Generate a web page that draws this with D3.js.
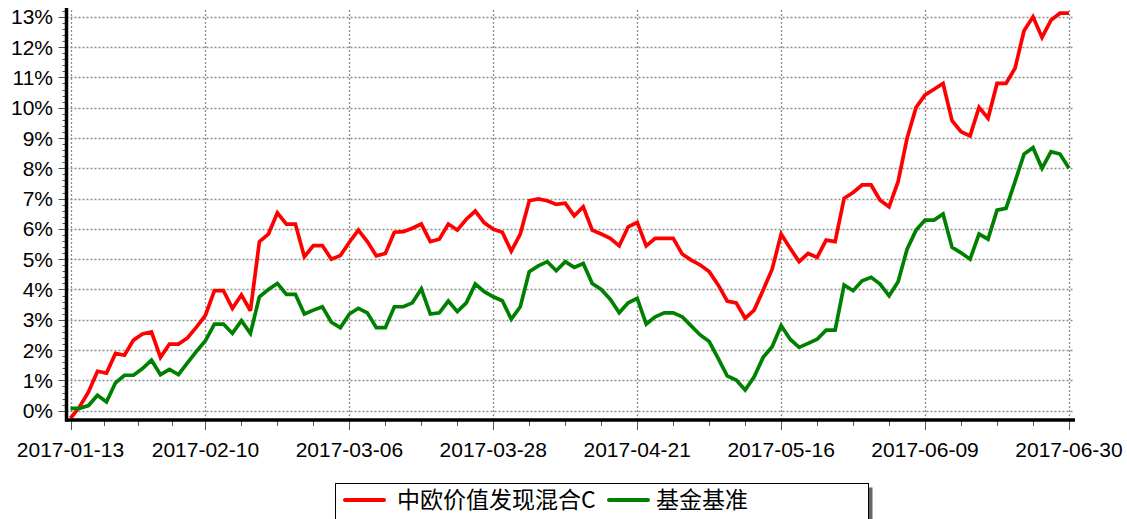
<!DOCTYPE html>
<html><head><meta charset="utf-8">
<script src="https://cdn.jsdelivr.net/npm/d3@7"></script>
<style>body{margin:0;background:#fff;}svg{display:block;}</style>
</head><body>
<div id="chart"></div>
<script>
const seriesNames = ["中欧价值发现混合C", "基金基准"];
const seriesColors = ["#ff0000", "#008000"];
const tickLabels = ["2017-01-13","2017-02-10","2017-03-06","2017-03-28","2017-04-21","2017-05-16","2017-06-09","2017-06-30"];
const fundValues = [-0.25,0.12,0.62,1.3,1.24,1.89,1.83,2.33,2.53,2.6,1.76,2.2,2.2,2.4,2.76,3.15,3.96,3.96,3.38,3.82,3.3,5.58,5.83,6.53,6.16,6.16,5.08,5.45,5.45,5.0,5.12,5.56,5.96,5.58,5.11,5.19,5.89,5.91,6.02,6.16,5.58,5.66,6.16,5.96,6.32,6.59,6.2,5.99,5.89,5.27,5.83,6.93,6.99,6.93,6.81,6.85,6.43,6.73,5.96,5.83,5.69,5.44,6.07,6.22,5.44,5.69,5.69,5.69,5.17,4.97,4.81,4.59,4.15,3.62,3.56,3.05,3.32,3.98,4.67,5.83,5.36,4.92,5.19,5.06,5.63,5.58,7.01,7.2,7.45,7.45,6.95,6.73,7.56,8.99,10.01,10.42,10.61,10.8,9.57,9.21,9.07,10.01,9.65,10.8,10.8,11.3,12.54,13.0,12.32,12.89,13.12,13.12];
const benchValues = [0.08,0.08,0.17,0.51,0.29,0.92,1.17,1.17,1.39,1.67,1.19,1.36,1.19,1.58,1.96,2.31,2.86,2.86,2.55,2.97,2.55,3.76,4.0,4.2,3.84,3.84,3.19,3.32,3.43,2.92,2.74,3.19,3.38,3.23,2.74,2.74,3.43,3.43,3.56,4.02,3.19,3.23,3.62,3.27,3.56,4.18,3.93,3.76,3.63,3.02,3.43,4.59,4.78,4.92,4.62,4.92,4.73,4.86,4.2,4.0,3.68,3.23,3.56,3.71,2.86,3.1,3.23,3.23,3.1,2.8,2.5,2.28,1.73,1.15,1.01,0.68,1.12,1.76,2.11,2.81,2.36,2.09,2.22,2.36,2.66,2.66,4.15,3.96,4.29,4.4,4.18,3.79,4.26,5.33,5.96,6.29,6.29,6.49,5.39,5.21,5.0,5.83,5.66,6.62,6.68,7.56,8.47,8.68,8.0,8.55,8.47,8.0];
const yTicks = [0,1,2,3,4,5,6,7,8,9,10,11,12,13];

const W = 1127, H = 519;
const svg = d3.select("#chart").append("svg").attr("width", W).attr("height", H);
const N = fundValues.length;
const x = d3.scaleLinear().domain([0, N - 1]).range([70.5, 1069]);
const y = d3.scaleLinear().domain([0, 13]).range([410.7, 16.8]);
const axisLeftX = 66.5, axisBottomY = 420, axisTopY = 8, axisRightX = 1075;

// tick indices: every 16 points from the end, plus the first point
const tickIdx = [];
for (let i = N - 1; i > 0; i -= 16) tickIdx.unshift(i);
tickIdx.unshift(0);

const grid = svg.append("g").attr("stroke", "#8c8c8c").attr("stroke-width", 1.3).attr("stroke-dasharray", "2,2");
yTicks.forEach(t => {
  grid.append("line").attr("x1", axisLeftX).attr("x2", axisRightX - 2)
    .attr("y1", Math.round(y(t)) + 0.5).attr("y2", Math.round(y(t)) + 0.5);
});
tickIdx.forEach(i => {
  grid.append("line").attr("x1", Math.round(x(i)) + 0.5).attr("x2", Math.round(x(i)) + 0.5)
    .attr("y1", axisTopY + 2).attr("y2", axisBottomY);
});

// y minor ticks
const ticksG = svg.append("g").attr("stroke", "#555").attr("stroke-width", 1);
for (let v = 0; v <= 13.2; v += 0.2) {
  const yy = Math.round(y(v)) + 0.5;
  ticksG.append("line").attr("x1", axisLeftX - 4).attr("x2", axisLeftX).attr("y1", yy).attr("y2", yy);
}
yTicks.forEach(t => {
  const yy = Math.round(y(t)) + 0.5;
  ticksG.append("line").attr("x1", axisLeftX - 8).attr("x2", axisLeftX).attr("y1", yy).attr("y2", yy);
});
// x ticks: major at labels, 3 minor between
for (let k = 0; k < tickIdx.length; k++) {
  const xx = Math.round(x(tickIdx[k])) + 0.5;
  ticksG.append("line").attr("x1", xx).attr("x2", xx).attr("y1", axisBottomY).attr("y2", axisBottomY + 10);
  if (k < tickIdx.length - 1) {
    for (let m = 1; m < 4; m++) {
      const idx = tickIdx[k] + (tickIdx[k + 1] - tickIdx[k]) * m / 4;
      const xm = Math.round(x(idx)) + 0.5;
      ticksG.append("line").attr("x1", xm).attr("x2", xm).attr("y1", axisBottomY).attr("y2", axisBottomY + 6);
    }
  }
}

// y labels
svg.append("g").selectAll("text").data(yTicks).join("text")
  .attr("x", 53).attr("y", d => y(d)).attr("dy", "0.36em")
  .attr("text-anchor", "end").attr("font-family", "Liberation Sans, Arial, sans-serif")
  .attr("font-size", 21).attr("fill", "#000").text(d => d + "%");
// x labels
svg.append("g").selectAll("text").data(tickIdx).join("text")
  .attr("x", (d, i) => x(d)).attr("y", 457)
  .attr("text-anchor", "middle").attr("font-family", "Liberation Sans, Arial, sans-serif")
  .attr("font-size", 21).attr("fill", "#000").text((d, i) => tickLabels[i]);

// lines
const line = d3.line().x((d, i) => x(i)).y(d => y(d));
[fundValues, benchValues].forEach((vals, k) => {
  svg.append("path").datum(vals).attr("d", line).attr("fill", "none")
    .attr("stroke", seriesColors[k]).attr("stroke-width", 3.7)
    .attr("stroke-linejoin", "miter").attr("stroke-miterlimit", 3);
});

// axes
svg.append("line").attr("x1", axisLeftX).attr("x2", axisLeftX).attr("y1", axisTopY).attr("y2", axisBottomY + 1.5)
  .attr("stroke", "#000").attr("stroke-width", 3.5);
svg.append("line").attr("x1", axisLeftX - 1.5).attr("x2", axisRightX).attr("y1", axisBottomY).attr("y2", axisBottomY)
  .attr("stroke", "#000").attr("stroke-width", 3.5);

// legend
const lg = svg.append("g");
lg.append("rect").attr("x", 339.5).attr("y", 487.5).attr("width", 533).attr("height", 40).attr("fill", "#666");
lg.append("rect").attr("x", 335.5).attr("y", 483.5).attr("width", 533).attr("height", 40)
  .attr("fill", "#fff").attr("stroke", "#000").attr("stroke-width", 1);
const legendItems = [{x: 345, tx: 397}, {x: 609, tx: 656}];
legendItems.forEach((it, k) => {
  lg.append("line").attr("x1", it.x).attr("x2", it.x + 39).attr("y1", 500).attr("y2", 500)
    .attr("stroke", seriesColors[k]).attr("stroke-width", 4).attr("stroke-linecap", "round");
  lg.append("text").attr("x", it.tx).attr("y", 500).attr("dy", "0.36em")
    .attr("font-family", "Noto Sans CJK SC, sans-serif").attr("font-size", 23).attr("fill", "#000")
    .text(seriesNames[k]);
});
</script>
</body></html>
